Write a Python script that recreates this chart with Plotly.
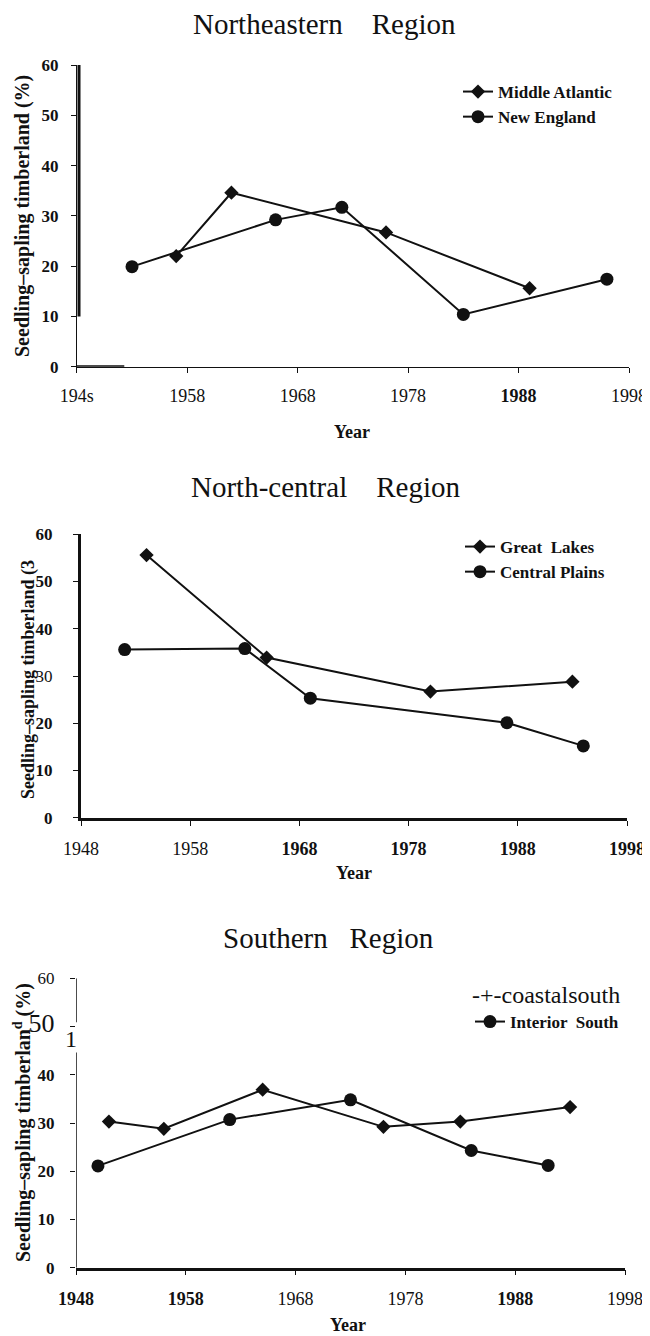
import plotly.graph_objects as go

# page body adds an 8px margin; figure is sized/offset to compensate
OFF = 8
FW, FH = 642, 1328

# ---------------- data ----------------
decade_ticks = [1948, 1958, 1968, 1978, 1988, 1998]
pct_ticks = [0, 10, 20, 30, 40, 50, 60]

ne_xlabels = ["194s", "1958", "1968", "1978", "<b>1988</b>", "1998"]
ne_ylabels = ["<b>0</b>", "<b>10</b>", "<b>20</b>", "<b>30</b>", "<b>40</b>", "<b>50</b>", "<b>60</b>"]
mid_atlantic_years = [1957, 1962, 1976, 1989]
mid_atlantic_vals = [22.0, 34.6, 26.7, 15.6]
new_england_years = [1953, 1966, 1972, 1983, 1996]
new_england_vals = [19.9, 29.2, 31.7, 10.4, 17.4]

nc_xlabels = ["1948", "1958", "<b>1968</b>", "<b>1978</b>", "<b>1988</b>", "<b>1998</b>"]
nc_ylabels = ["<b>0</b>", "<b>10</b>", "<b>20</b>", "30", "<b>40</b>", "<b>50</b>", "<b>60</b>"]
great_lakes_years = [1954, 1965, 1980, 1993]
great_lakes_vals = [55.6, 33.9, 26.7, 28.8]
central_plains_years = [1952, 1963, 1969, 1987, 1994]
central_plains_vals = [35.6, 35.8, 25.3, 20.1, 15.2]

s_xlabels = ["<b>1948</b>", "<b>1958</b>", "1968", "1978", "<b>1988</b>", "1998"]
s_ylabels = ["<b>0</b>", "<b>10</b>", "<b>20</b>", "<b>30</b>", "<b>40</b>",
             "<span style='font-size:26px'>50</span>", "60"]
coastal_south_years = [1951, 1956, 1965, 1976, 1983, 1993]
coastal_south_vals = [30.3, 28.8, 36.9, 29.2, 30.3, 33.3]
interior_south_years = [1950, 1962, 1973, 1984, 1991]
interior_south_vals = [21.1, 30.7, 34.8, 24.3, 21.2]

FONT = "Liberation Serif"
INK = "#111111"


def px(x):
    return (x - OFF) / FW


def py(y):
    return 1 - (y - OFF) / FH


fig = go.Figure()


def add_line(xs, ys, name, symbol, size, xa, ya, legend, showlegend=True):
    fig.add_trace(go.Scatter(
        x=xs, y=ys, name=name, mode="lines+markers",
        line=dict(color=INK, width=2),
        marker=dict(symbol=symbol, size=size, color=INK),
        xaxis=xa, yaxis=ya, legend=legend, showlegend=showlegend,
        cliponaxis=False,
    ))


add_line(mid_atlantic_years, mid_atlantic_vals, "Middle Atlantic", "diamond", 11, "x", "y", "legend")
add_line(new_england_years, new_england_vals, "New England", "circle", 13, "x", "y", "legend")
add_line(great_lakes_years, great_lakes_vals, "Great  Lakes", "diamond", 11, "x2", "y2", "legend2")
add_line(central_plains_years, central_plains_vals, "Central Plains", "circle", 13, "x2", "y2", "legend2")
add_line(coastal_south_years, coastal_south_vals, "coastalsouth", "diamond", 11, "x3", "y3", "legend3", showlegend=False)
add_line(interior_south_years, interior_south_vals, "Interior  South", "circle", 13, "x3", "y3", "legend3")


def xaxis_cfg(dom, texts, lw, anchor):
    return dict(domain=dom, range=[1948, 1998], tickvals=decade_ticks, ticktext=texts,
                showgrid=False, zeroline=False, showline=True, linecolor=INK, linewidth=lw,
                ticks="outside", ticklen=5, tickwidth=1, tickcolor=INK,
                ticklabelstandoff=8, anchor=anchor, automargin=False,
                tickfont=dict(family=FONT, size=18, color=INK))


def yaxis_cfg(dom, texts, lw, anchor, standoff, showline=True):
    return dict(domain=dom, range=[0, 60], tickvals=pct_ticks, ticktext=texts,
                showgrid=False, zeroline=False, showline=showline, linecolor=INK, linewidth=lw,
                ticks="outside", ticklen=5, tickwidth=1, tickcolor=INK,
                ticklabelstandoff=standoff, anchor=anchor, automargin=False,
                tickfont=dict(family=FONT, size=17, color=INK))


# pixel geometry of the three plot areas (page pixels)
p1 = dict(x0=76.8, x1=629, y0=366.7, y1=65)
p2 = dict(x0=81, x1=627, y0=817.7, y1=534.3)
p3 = dict(x0=76, x1=625, y0=1267.7, y1=978.3)

fig.update_layout(
    width=FW, height=FH, margin=dict(l=0, r=0, t=0, b=0, pad=0, autoexpand=False),
    paper_bgcolor="white", plot_bgcolor="white", showlegend=True,
    xaxis=xaxis_cfg([px(p1["x0"]), px(p1["x1"])], ne_xlabels, 1, "y"),
    yaxis=yaxis_cfg([py(p1["y0"]), py(p1["y1"])], ne_ylabels, 1, "x", 9),
    xaxis2=xaxis_cfg([px(p2["x0"]), px(p2["x1"])], nc_xlabels, 3, "y2"),
    yaxis2=yaxis_cfg([py(p2["y0"]), py(p2["y1"])], nc_ylabels, 3, "x2", 17),
    xaxis3=xaxis_cfg([px(p3["x0"]), px(p3["x1"])], s_xlabels, 2.5, "y3"),
    yaxis3=yaxis_cfg([py(p3["y0"]), py(p3["y1"])], s_ylabels, 1, "x3", 12, showline=False),
)

leg_common = dict(xanchor="left", yanchor="top", bgcolor="rgba(0,0,0,0)",
                  font=dict(family=FONT, size=17, color=INK, weight="bold"),
                  itemwidth=30, tracegroupgap=0)
fig.update_layout(
    legend=dict(x=px(458), y=py(74), **leg_common),
    legend2=dict(x=px(460), y=py(529), **leg_common),
    legend3=dict(x=px(470), y=py(1004), **leg_common),
)

# axis decorations (thick segments / broken axis)
shapes = [
    dict(type="line", xref="x", yref="y", x0=1948.2, x1=1948.2, y0=10, y1=60, line=dict(color=INK, width=3)),
    dict(type="line", xref="x", yref="y", x0=1948, x1=1952.3, y0=0, y1=0, line=dict(color=INK, width=3)),
    dict(type="line", xref="x3", yref="y3", x0=1948, x1=1948, y0=50.9, y1=60, line=dict(color=INK, width=1.5)),
    dict(type="line", xref="x3", yref="y3", x0=1948, x1=1948, y0=0, y1=44.6, line=dict(color=INK, width=1.5)),
]
fig.update_layout(shapes=shapes)

ann = []
NB = "&nbsp;"
# panel titles
ann.append(dict(text="Northeastern" + NB * 4 + "Region", x=px(324), y=py(24)))
ann.append(dict(text="North-central" + NB * 4 + "Region", x=px(325), y=py(487)))
ann.append(dict(text="Southern" + NB * 3 + "Region", x=px(328), y=py(938)))
for a in ann:
    a.update(xref="paper", yref="paper", showarrow=False, xanchor="center", yanchor="middle",
             font=dict(family=FONT, size=29, color=INK))

# x axis titles
for yy, xx in [(432, 352), (873, 354), (1325, 348)]:
    ann.append(dict(text="<b>Year</b>", x=px(xx), y=py(yy), xref="paper", yref="paper",
                    showarrow=False, xanchor="center", yanchor="middle",
                    font=dict(family=FONT, size=18, color=INK)))

# y axis titles
for txt, xx, yy, fs in [("Seedling–sapling timberland (%)", 23, 216, 20),
                        ("Seedling–sapling timberland (3", 28, 680, 18),
                        ("Seedling–sapling timberlan<sup>d</sup> (%)", 22, 1123, 20)]:
    ann.append(dict(text="<b>" + txt + "</b>", x=px(xx), y=py(yy), xref="paper", yref="paper",
                    showarrow=False, textangle=-90, xanchor="center", yanchor="middle",
                    font=dict(family=FONT, size=fs, color=INK)))

# southern legend text drawn as plain text, plus stray glyph in broken axis
ann.append(dict(text="-+-coastalsouth", x=px(470), y=py(995), xref="paper", yref="paper",
                showarrow=False, xanchor="left", yanchor="middle",
                font=dict(family=FONT, size=24, color=INK)))
ann.append(dict(text="1", x=px(71), y=py(1039), xref="paper", yref="paper",
                showarrow=False, xanchor="center", yanchor="middle",
                font=dict(family=FONT, size=24, color=INK)))

fig.update_layout(annotations=ann)

fig.write_html("out.html")
